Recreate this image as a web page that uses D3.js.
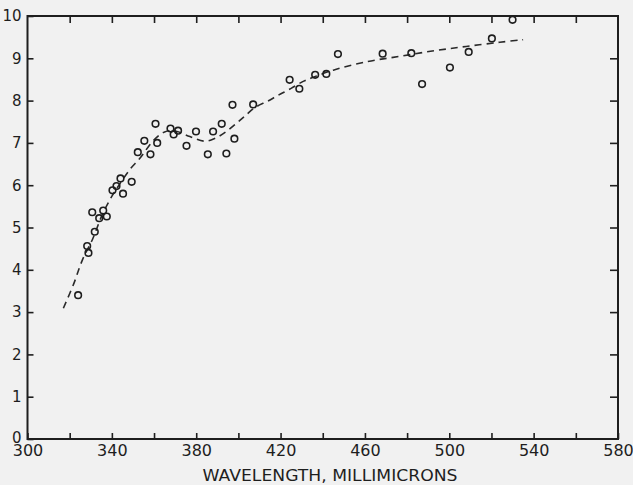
<!DOCTYPE html>
<html>
<head>
<meta charset="utf-8">
<script src="https://cdn.jsdelivr.net/npm/d3@7"></script>
<style>
  body { margin: 0; background: #f1f1f1; }
  svg { display: block; }
  .tick text { font-family: "DejaVu Sans", sans-serif; fill: #1e1e1e; }
  .xaxis .tick text { font-size: 16px; }
  .yaxis .tick text { font-size: 15px; }
  .tick line { stroke: #1e1e1e; stroke-width: 1.6; }
  .axistitle { font-family: "DejaVu Sans", sans-serif; font-size: 16px; fill: #1e1e1e; }
</style>
</head>
<body>
<div id="chart"></div>
<script>
// measured points (wavelength, value)
var wavelength = [324, 328.3, 328.9, 331.9, 330.7, 334, 335.9, 337.6, 340.3, 342.2, 344.1, 345.3, 349.4,
  352.3, 358.3, 355.4, 361.5, 360.7, 367.8, 369.3, 371.4, 375.4, 379.9, 385.5, 388, 392.1, 394.3, 398.1,
  397.2, 407, 424.3, 428.9, 436.4, 441.7, 447.2, 468.4, 482, 487.1, 500.3, 509.2, 520.2, 530];
var values = [3.40, 4.56, 4.40, 4.90, 5.36, 5.22, 5.40, 5.26, 5.88, 5.98, 6.16, 5.80, 6.08,
  6.78, 6.73, 7.05, 7.00, 7.45, 7.34, 7.20, 7.29, 6.93, 7.27, 6.73, 7.27, 7.45, 6.75, 7.10,
  7.90, 7.91, 8.49, 8.28, 8.61, 8.63, 9.10, 9.11, 9.12, 8.39, 8.78, 9.15, 9.47, 9.91];

// dashed fitted curve
var curveWl = [317, 322, 326, 331, 335, 339, 344, 349, 353, 360, 365, 370, 377, 384, 389, 394, 399, 403,
  408, 414, 419, 425, 431, 437, 445, 461, 477, 493, 508, 524, 535];
var curveVal = [3.09, 3.68, 4.23, 4.74, 5.25, 5.65, 6.05, 6.40, 6.62, 7.07, 7.26, 7.28, 7.15, 7.04, 7.11, 7.26, 7.46, 7.63,
  7.84, 7.99, 8.13, 8.29, 8.46, 8.58, 8.72, 8.92, 9.05, 9.18, 9.28, 9.38, 9.44];

var xTicks = d3.range(300, 581, 20);
var xLabels = d3.range(300, 581, 40);
var yTicks = d3.range(0, 11, 1);

var width = 633, height = 485;

var x = d3.scaleLinear()
  .domain([300, 580])
  .range([27.5, 618]);
var y = d3.scaleLinear()
  .domain([0, 10])
  .range([439, 16]);

var svg = d3.select("#chart").append("svg")
  .attr("width", width)
  .attr("height", height);

svg.append("rect")
  .attr("width", width)
  .attr("height", height)
  .attr("fill", "#f1f1f1");

// Axes (inward ticks on all four sides)
svg.append("g")
  .attr("class", "xaxis")
  .attr("transform", "translate(0," + y(0) + ")")
  .call(d3.axisBottom(x).tickValues(xTicks).tickSize(-6).tickPadding(6)
    .tickFormat(function(d) { return xLabels.indexOf(d) >= 0 ? d : ""; }));

var yAxis = svg.append("g")
  .attr("class", "yaxis")
  .attr("transform", "translate(" + x(300) + ",0)")
  .call(d3.axisLeft(y).tickValues(yTicks).tickSize(-6).tickPadding(6));

// the zero label sits a little above the corner
yAxis.selectAll(".tick text")
  .filter(function(d) { return d === 0; })
  .attr("dy", "0.2em");

svg.append("g")
  .attr("transform", "translate(0," + y(10) + ")")
  .call(d3.axisTop(x).tickValues(xTicks.slice(1, -1)).tickSize(-7).tickFormat(""));

svg.append("g")
  .attr("transform", "translate(" + x(580) + ",0)")
  .call(d3.axisRight(y).tickValues(yTicks.slice(1, -1)).tickSize(-8).tickFormat(""));

svg.selectAll(".domain").remove();
svg.selectAll(".tick text").attr("fill", "#1e1e1e");

// frame
svg.append("rect")
  .attr("x", x(300))
  .attr("y", y(10))
  .attr("width", x(580) - x(300))
  .attr("height", y(0) - y(10))
  .attr("fill", "none")
  .attr("stroke", "#1e1e1e")
  .attr("stroke-width", 2);

// Dashed curve
var line = d3.line()
  .x(function(d) { return x(d[0]); })
  .y(function(d) { return y(d[1]); })
  .curve(d3.curveCatmullRom.alpha(0.5));

svg.append("path")
  .datum(d3.zip(curveWl, curveVal))
  .attr("d", line)
  .attr("fill", "none")
  .attr("stroke", "#2a2a2a")
  .attr("stroke-width", 1.6)
  .attr("stroke-dasharray", "7,5");

// Points
svg.selectAll("circle.pt")
  .data(d3.zip(wavelength, values))
  .enter()
  .append("circle")
  .attr("class", "pt")
  .attr("cx", function(d) { return x(d[0]); })
  .attr("cy", function(d) { return y(d[1]); })
  .attr("r", 3.3)
  .attr("fill", "none")
  .attr("stroke", "#1e1e1e")
  .attr("stroke-width", 1.6);

// Axis title
svg.append("text")
  .attr("class", "axistitle")
  .attr("x", 330)
  .attr("y", 481)
  .attr("text-anchor", "middle")
  .attr("textLength", 255)
  .attr("lengthAdjust", "spacingAndGlyphs")
  .text("WAVELENGTH, MILLIMICRONS");
</script>
</body>
</html>
